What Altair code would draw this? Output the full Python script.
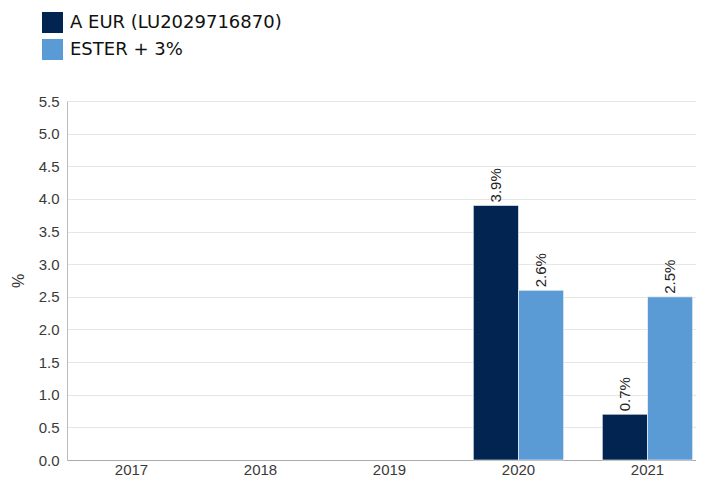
import altair as alt
import pandas as pd

years = ["2017", "2018", "2019", "2020", "2021"]
series = ["A EUR (LU2029716870)", "ESTER + 3%"]
bar_years = ["2020", "2020", "2021", "2021"]
bar_series = [series[0], series[1], series[0], series[1]]
bar_values = [3.9, 2.6, 0.7, 2.5]
y_ticks = [0, 0.5, 1.0, 1.5, 2.0, 2.5, 3.0, 3.5, 4.0, 4.5, 5.0, 5.5]
colors = ["#012451", "#5b9bd5"]

df = pd.DataFrame({"year": bar_years, "series": bar_series, "value": bar_values})
df["label"] = df["value"].map(lambda v: f"{v:.1f}%")

x = alt.X("year:N", scale=alt.Scale(domain=years, paddingInner=0.3, paddingOuter=0.15,
                                    range=[0, 645]),
          axis=alt.Axis(title=None, labelAngle=0, labelFont="Liberation Sans", labelFontSize=15,
                        labelColor="#3a3a3a", ticks=False, labelPadding=2, domainColor="#aaaaaa"))
y = alt.Y("value:Q", scale=alt.Scale(domain=[0, 5.5], nice=False),
          axis=alt.Axis(title="%", values=y_ticks, format=".1f", labelFont="Liberation Sans",
                        labelFontSize=15, labelColor="#3a3a3a", ticks=False, labelPadding=8,
                        labelOverlap=False, grid=True,
                        gridColor="#e6e6e6", domainColor="#bbbbbb", titleFont="Liberation Sans",
                        titleFontSize=16, titleFontWeight="normal", titleColor="#333333",
                        titlePadding=12))

color = alt.Color("series:N", scale=alt.Scale(domain=series, range=colors),
                  legend=alt.Legend(title=None, orient="none", legendX=-25, legendY=-89,
                                    symbolType="square", symbolSize=441, symbolStrokeWidth=0,
                                    symbolOpacity=1, labelFont="DejaVu Sans", labelFontSize=18,
                                    labelColor="#111111", rowPadding=6, labelOffset=7,
                                    labelLimit=400))

base = alt.Chart(df).encode(x=x, y=y,
                            xOffset=alt.XOffset("series:N", scale=alt.Scale(domain=series)))

bars = base.mark_bar(stroke="white", strokeWidth=1, strokeOpacity=0.6).encode(color=color)
labels = base.mark_text(angle=270, align="left", baseline="middle", dx=3, font="Liberation Sans",
                        fontSize=15, color="#222222").encode(text="label:N")

chart = (bars + labels).properties(
    width=629, height=359,
    autosize=alt.AutoSizeParams(type="none"),
    padding={"left": 59, "top": 93, "right": 0, "bottom": 16},
).configure_view(stroke=None)

chart.save("out.html", embed_options={"renderer": "svg", "actions": False})
